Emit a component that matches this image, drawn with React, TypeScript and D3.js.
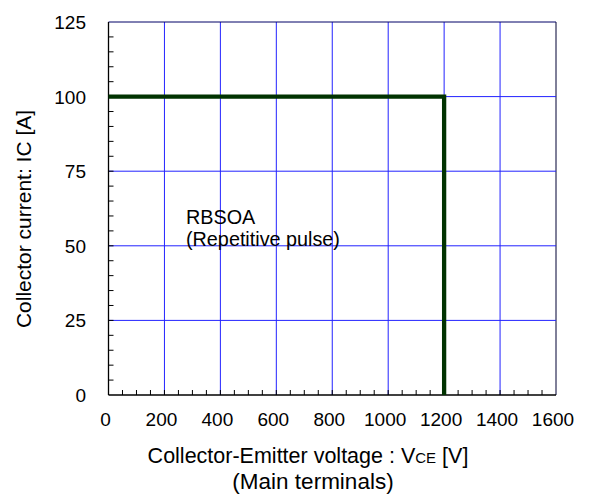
import { useEffect, useRef } from 'react';
import * as d3 from 'd3';

// RBSOA boundary: (VCE [V], IC [A])
const VCE = [0, 1200, 1200];
const IC = [100, 100, 0];
const X_TICKS = [0, 200, 400, 600, 800, 1000, 1200, 1400, 1600];
const Y_TICKS = [0, 25, 50, 75, 100, 125];

const W = 589;
const H = 495;
const FONT = 'Arial, "Liberation Sans", sans-serif';

export default function App() {
  const ref = useRef<SVGSVGElement>(null);

  useEffect(() => {
    if (!ref.current) return;
    const svg = d3.select(ref.current);
    svg.selectAll('*').remove();

    const margin = { top: 22, right: 33, bottom: 100, left: 108.5 };
    const width = W - margin.left - margin.right;
    const height = H - margin.top - margin.bottom;

    const x = d3.scaleLinear().domain([0, 1600]).range([0, width]);
    const y = d3.scaleLinear().domain([0, 125]).range([height, 0]);

    const g = svg.append('g').attr('transform', `translate(${margin.left},${margin.top})`);

    // grid
    g.append('g').selectAll('line')
      .data(X_TICKS.slice(1))
      .join('line')
      .attr('x1', d => x(d)).attr('x2', d => x(d))
      .attr('y1', 0).attr('y2', height)
      .attr('stroke', d => (d === 1600 ? '#000033' : '#2222ff')).attr('stroke-width', 1);
    g.append('g').selectAll('line')
      .data(Y_TICKS.slice(1))
      .join('line')
      .attr('x1', 0).attr('x2', width)
      .attr('y1', d => y(d)).attr('y2', d => y(d))
      .attr('stroke', d => (d === 125 ? '#000066' : '#2222ff')).attr('stroke-width', 1);

    // minor ticks (inward)
    g.append('g').selectAll('line')
      .data(d3.range(50, 1600, 50))
      .join('line')
      .attr('x1', d => x(d)).attr('x2', d => x(d))
      .attr('y1', height).attr('y2', height - 5)
      .attr('stroke', '#000');
    g.append('g').selectAll('line')
      .data(d3.range(5, 125, 5))
      .join('line')
      .attr('x1', 0).attr('x2', 5)
      .attr('y1', d => y(d)).attr('y2', d => y(d))
      .attr('stroke', '#000');

    // left and bottom axis lines
    g.append('line').attr('x1', 0).attr('x2', 0).attr('y1', 0).attr('y2', height)
      .attr('stroke', '#000').attr('stroke-width', 1.3);
    g.append('line').attr('x1', 0).attr('x2', width).attr('y1', height).attr('y2', height)
      .attr('stroke', '#000').attr('stroke-width', 1.3);

    // tick labels
    g.append('g').selectAll('text')
      .data(X_TICKS)
      .join('text')
      .attr('x', d => x(d) - 3).attr('y', height + 31)
      .attr('text-anchor', 'middle')
      .attr('font-family', FONT).attr('font-size', 19).attr('fill', '#000')
      .text(d => d);
    g.append('g').selectAll('text')
      .data(Y_TICKS)
      .join('text')
      .attr('x', -22.5).attr('y', d => y(d) + 7)
      .attr('text-anchor', 'end')
      .attr('font-family', FONT).attr('font-size', 19).attr('fill', '#000')
      .text(d => d);

    // RBSOA curve
    const line = d3.line<number>()
      .x(i => x(VCE[i]))
      .y(i => y(IC[i]));
    g.append('path')
      .datum(d3.range(VCE.length))
      .attr('fill', 'none')
      .attr('stroke', '#013301')
      .attr('stroke-width', 4.3)
      .attr('stroke-linejoin', 'miter')
      .attr('d', line);

    // annotation
    const note = svg.append('text')
      .attr('font-family', FONT).attr('font-size', 19.8).attr('fill', '#000');
    note.append('tspan').attr('x', 186).attr('y', 224).text('RBSOA');
    note.append('tspan').attr('x', 186).attr('y', 246).text('(Repetitive pulse)');

    // axis titles
    const xt = svg.append('text')
      .attr('x', 308).attr('y', 463)
      .attr('text-anchor', 'middle')
      .attr('font-family', FONT).attr('font-size', 21.5).attr('fill', '#000');
    xt.append('tspan').text('Collector-Emitter voltage : V');
    xt.append('tspan').attr('font-size', 15).text('CE');
    xt.append('tspan').text(' [V]');
    svg.append('text')
      .attr('x', 313).attr('y', 489)
      .attr('text-anchor', 'middle')
      .attr('font-family', FONT).attr('font-size', 22.5).attr('fill', '#000')
      .text('(Main terminals)');

    svg.append('text')
      .attr('transform', `translate(31,219) rotate(-90)`)
      .attr('text-anchor', 'middle')
      .attr('font-family', FONT).attr('font-size', 21).attr('fill', '#000')
      .text('Collector current: IC [A]');
  }, []);

  return (
    <svg
      ref={ref}
      width={W}
      height={H}
      style={{ display: 'block', position: 'absolute', left: 0, top: 0, background: '#fff' }}
    />
  );
}
